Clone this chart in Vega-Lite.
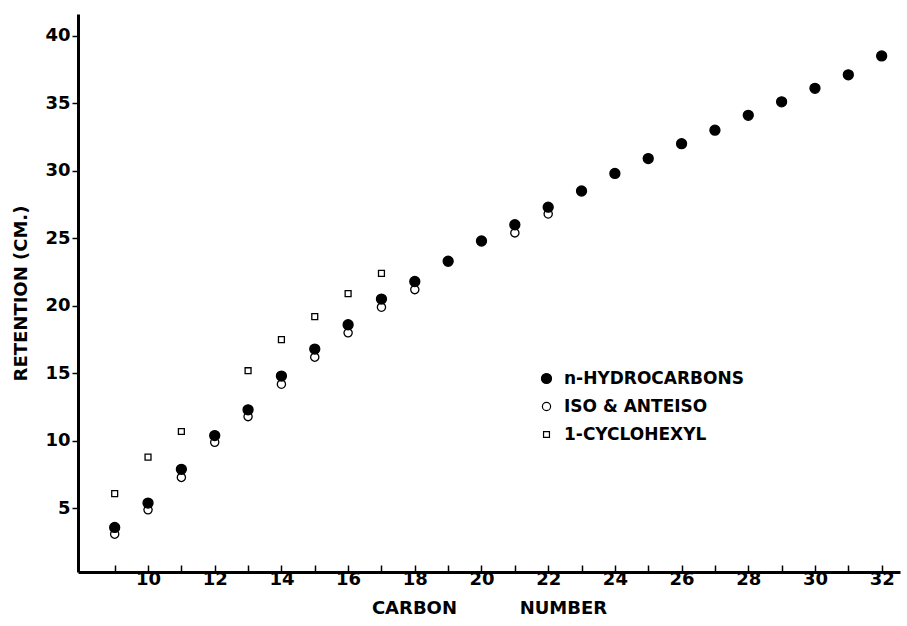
{
  "$schema": "https://vega.github.io/schema/vega-lite/v6.json",
  "autosize": "none",
  "width": 822,
  "height": 558,
  "padding": {"left": 78, "top": 14, "right": 7, "bottom": 54},
  "background": "white",
  "config": {
    "font": "DejaVu Sans",
    "view": {"stroke": null}
  },
  "data": {
    "values": [
      {"carbon": 9, "retention": 3.1, "series": "ISO & ANTEISO"},
      {"carbon": 10, "retention": 4.9, "series": "ISO & ANTEISO"},
      {"carbon": 11, "retention": 7.3, "series": "ISO & ANTEISO"},
      {"carbon": 12, "retention": 9.9, "series": "ISO & ANTEISO"},
      {"carbon": 13, "retention": 11.8, "series": "ISO & ANTEISO"},
      {"carbon": 14, "retention": 14.2, "series": "ISO & ANTEISO"},
      {"carbon": 15, "retention": 16.2, "series": "ISO & ANTEISO"},
      {"carbon": 16, "retention": 18.0, "series": "ISO & ANTEISO"},
      {"carbon": 17, "retention": 19.9, "series": "ISO & ANTEISO"},
      {"carbon": 18, "retention": 21.2, "series": "ISO & ANTEISO"},
      {"carbon": 21, "retention": 25.4, "series": "ISO & ANTEISO"},
      {"carbon": 22, "retention": 26.8, "series": "ISO & ANTEISO"},
      {"carbon": 9, "retention": 6.1, "series": "1-CYCLOHEXYL"},
      {"carbon": 10, "retention": 8.8, "series": "1-CYCLOHEXYL"},
      {"carbon": 11, "retention": 10.7, "series": "1-CYCLOHEXYL"},
      {"carbon": 13, "retention": 15.2, "series": "1-CYCLOHEXYL"},
      {"carbon": 14, "retention": 17.5, "series": "1-CYCLOHEXYL"},
      {"carbon": 15, "retention": 19.2, "series": "1-CYCLOHEXYL"},
      {"carbon": 16, "retention": 20.9, "series": "1-CYCLOHEXYL"},
      {"carbon": 17, "retention": 22.4, "series": "1-CYCLOHEXYL"},
      {"carbon": 9, "retention": 3.6, "series": "n-HYDROCARBONS"},
      {"carbon": 10, "retention": 5.4, "series": "n-HYDROCARBONS"},
      {"carbon": 11, "retention": 7.9, "series": "n-HYDROCARBONS"},
      {"carbon": 12, "retention": 10.4, "series": "n-HYDROCARBONS"},
      {"carbon": 13, "retention": 12.3, "series": "n-HYDROCARBONS"},
      {"carbon": 14, "retention": 14.8, "series": "n-HYDROCARBONS"},
      {"carbon": 15, "retention": 16.8, "series": "n-HYDROCARBONS"},
      {"carbon": 16, "retention": 18.6, "series": "n-HYDROCARBONS"},
      {"carbon": 17, "retention": 20.5, "series": "n-HYDROCARBONS"},
      {"carbon": 18, "retention": 21.8, "series": "n-HYDROCARBONS"},
      {"carbon": 19, "retention": 23.3, "series": "n-HYDROCARBONS"},
      {"carbon": 20, "retention": 24.8, "series": "n-HYDROCARBONS"},
      {"carbon": 21, "retention": 26.0, "series": "n-HYDROCARBONS"},
      {"carbon": 22, "retention": 27.3, "series": "n-HYDROCARBONS"},
      {"carbon": 23, "retention": 28.5, "series": "n-HYDROCARBONS"},
      {"carbon": 24, "retention": 29.8, "series": "n-HYDROCARBONS"},
      {"carbon": 25, "retention": 30.9, "series": "n-HYDROCARBONS"},
      {"carbon": 26, "retention": 32.0, "series": "n-HYDROCARBONS"},
      {"carbon": 27, "retention": 33.0, "series": "n-HYDROCARBONS"},
      {"carbon": 28, "retention": 34.1, "series": "n-HYDROCARBONS"},
      {"carbon": 29, "retention": 35.1, "series": "n-HYDROCARBONS"},
      {"carbon": 30, "retention": 36.1, "series": "n-HYDROCARBONS"},
      {"carbon": 31, "retention": 37.1, "series": "n-HYDROCARBONS"},
      {"carbon": 32, "retention": 38.5, "series": "n-HYDROCARBONS"}
    ]
  },
  "layer": [
    {
      "transform": [{"filter": "datum.series != 'n-HYDROCARBONS'"}],
      "mark": {"type": "point", "filled": true, "stroke": "black", "strokeWidth": 1.3, "opacity": 1},
      "encoding": {
        "x": {
          "field": "carbon",
          "type": "quantitative",
          "scale": {"domain": [7.9, 32.55], "nice": false, "zero": false},
          "axis": {
            "values": [10,12,14,16,18,20,22,24,26,28,30,32],
            "grid": false,
            "ticks": false,
            "domainColor": "black",
            "domainWidth": 3,
            "labelPadding": -2,
            "labelFontSize": 18,
            "labelFontWeight": "bold",
            "labelColor": "black",
            "labelFlush": false,
            "labelOverlap": false,
            "title": "CARBON\u00a0\u00a0\u00a0\u00a0\u00a0\u00a0\u00a0\u00a0\u00a0\u00a0NUMBER",
            "titleFontSize": 18,
            "titleFontWeight": "bold",
            "titleColor": "black",
            "titlePadding": 11
          }
        },
        "y": {
          "field": "retention",
          "type": "quantitative",
          "scale": {"domain": [0.3, 41.6], "nice": false, "zero": false},
          "axis": {
            "values": [5,10,15,20,25,30,35,40],
            "grid": false,
            "domainColor": "black",
            "domainWidth": 3,
            "tickColor": "black",
            "tickWidth": 1.5,
            "tickSize": 6,
            "labelPadding": 2,
            "labelFontSize": 18,
            "labelFontWeight": "bold",
            "labelColor": "black",
            "labelFlush": false,
            "title": "RETENTION (CM.)",
            "titleFontSize": 18,
            "titleFontWeight": "bold",
            "titleColor": "black",
            "titlePadding": 14
          }
        },
        "shape": {
          "field": "series",
          "type": "nominal",
          "scale": {"domain": ["n-HYDROCARBONS", "ISO & ANTEISO", "1-CYCLOHEXYL"], "range": ["circle", "circle", "square"]},
          "legend": {
            "title": null,
            "orient": "none",
            "legendX": 460,
            "legendY": 356,
            "labelFontSize": 17,
            "labelFontWeight": "bold",
            "labelColor": "black",
            "labelLimit": 400,
            "rowPadding": 10,
            "symbolStrokeColor": "black",
            "symbolStrokeWidth": 1.2,
            "labelOffset": 9
          }
        },
        "fill": {
          "field": "series",
          "type": "nominal",
          "scale": {"domain": ["n-HYDROCARBONS", "ISO & ANTEISO", "1-CYCLOHEXYL"], "range": ["black", "white", "white"]}
        },
        "size": {
          "field": "series",
          "type": "nominal",
          "scale": {"domain": ["n-HYDROCARBONS", "ISO & ANTEISO", "1-CYCLOHEXYL"], "range": [100, 35, 80]}
        }
      }
    },
    {
      "transform": [{"filter": "datum.series == 'n-HYDROCARBONS'"}],
      "mark": {"type": "point", "filled": true, "stroke": "black", "strokeWidth": 1.3, "opacity": 1},
      "encoding": {
        "x": {
          "field": "carbon",
          "type": "quantitative",
          "axis": {
            "orient": "top",
            "offset": -558,
            "values": [9,10,11,12,13,14,15,16,17,18,19,20,21,22,23,24,25,26,27,28,29,30,31,32],
            "grid": false,
            "domain": false,
            "labels": false,
            "ticks": true,
            "tickColor": "black",
            "tickWidth": 1.5,
            "tickSize": 7,
            "title": null
          }
        },
        "y": {"field": "retention", "type": "quantitative", "axis": null},
        "shape": {"field": "series", "type": "nominal"},
        "fill": {"field": "series", "type": "nominal"},
        "size": {"field": "series", "type": "nominal"}
      }
    }
  ],
  "resolve": {"axis": {"x": "independent", "y": "independent"}}
}
